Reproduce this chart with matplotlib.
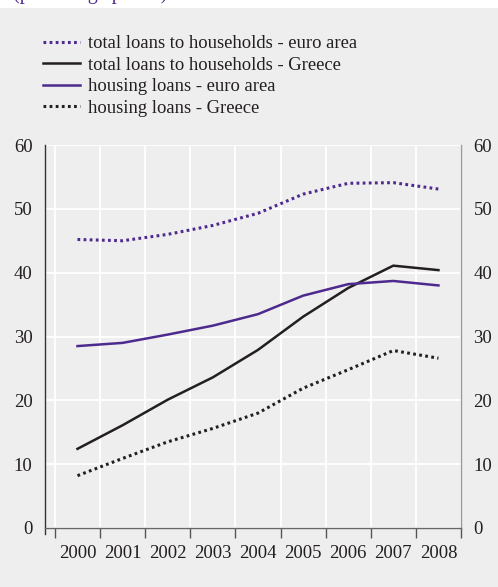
import matplotlib
matplotlib.use("Agg")
import matplotlib.pyplot as plt
from matplotlib.patches import Rectangle

years = ["2000", "2001", "2002", "2003", "2004", "2005", "2006", "2007", "2008"]
total_euro = [45.2, 45.0, 46.0, 47.4, 49.3, 52.3, 54.0, 54.1, 53.1]
total_greece = [12.4, 16.1, 20.1, 23.6, 27.9, 33.1, 37.6, 41.1, 40.4]
housing_euro = [28.5, 29.0, 30.3, 31.7, 33.5, 36.4, 38.2, 38.7, 38.0]
housing_greece = [8.2, 10.9, 13.5, 15.6, 18.0, 21.9, 24.8, 27.8, 26.6]
yticks = [0, 10, 20, 30, 40, 50, 60]

PURPLE = "#4e2a8e"
BLACK = "#231f20"
BG = "#eeeeee"

plt.rcParams["font.family"] = ["Liberation Serif", "DejaVu Serif"]

W, H = 498, 587
fig = plt.figure(figsize=(W / 100, H / 100), dpi=100, facecolor=BG)

# white strip with the unit note along the top edge
fig.patches.append(Rectangle((0, 1 - 8 / H), 1, 8 / H, transform=fig.transFigure,
                             facecolor="white", edgecolor="none", zorder=0))
fig.text(13 / W, 1 + 1.5 / H, "(percentage points)", color=PURPLE, fontsize=14.5,
         ha="left", va="baseline", zorder=1)

ax = fig.add_axes([45 / W, (H - 528) / H, (461 - 45) / W, (528 - 145) / H])
ax.set_facecolor(BG)

x = list(range(len(years)))
dot = (0, (0.9, 1.1))
l1, = ax.plot(x, total_euro, color=PURPLE, lw=2.2, linestyle=dot,
              label="total loans to households - euro area")
l2, = ax.plot(x, total_greece, color=BLACK, lw=1.8,
              label="total loans to households - Greece")
l3, = ax.plot(x, housing_euro, color=PURPLE, lw=1.8,
              label="housing loans - euro area")
l4, = ax.plot(x, housing_greece, color=BLACK, lw=2.2, linestyle=dot,
              label="housing loans - Greece")

ax.set_xlim(-0.72, 8.5)
ax.set_ylim(0, 60)

# category boundaries carry the ticks and vertical grid
bounds = [i - 0.5 for i in range(len(years) + 1)]
ax.set_xticks(bounds)
ax.set_xticklabels([])
ax.set_xticks(x, minor=True)
ax.set_xticklabels(years, minor=True, fontsize=13.5, color=BLACK)
ax.tick_params(axis="x", which="minor", length=0, pad=12)
ax.tick_params(axis="x", which="major", length=7, width=1, color="#555555", direction="out")

ax.set_yticks(yticks)
ax.tick_params(axis="y", which="both", length=0, labelsize=13.5, labelcolor=BLACK,
               left=False, right=False, labelleft=True, labelright=True, pad=9)

ax.grid(True, which="major", color="white", lw=1.3)
ax.set_axisbelow(True)

ax.spines["top"].set_visible(False)
ax.spines["left"].set_color("#333333")
ax.spines["left"].set_linewidth(1.0)
ax.spines["left"].set_bounds(-0.9, 60)
ax.spines["right"].set_color("#9a9a9a")
ax.spines["right"].set_linewidth(1.0)
ax.spines["bottom"].set_color("#666666")
ax.spines["bottom"].set_linewidth(1.0)

leg = fig.legend(handles=[l1, l2, l3, l4], loc="upper left",
                 bbox_to_anchor=(43 / W, 1 - 35 / H), frameon=False,
                 fontsize=13.4, handlelength=2.0, handletextpad=0.43,
                 labelspacing=0.24, borderaxespad=0, borderpad=0)
for t in leg.get_texts():
    t.set_color(BLACK)

fig.savefig("out.png", dpi=100, facecolor=BG)
